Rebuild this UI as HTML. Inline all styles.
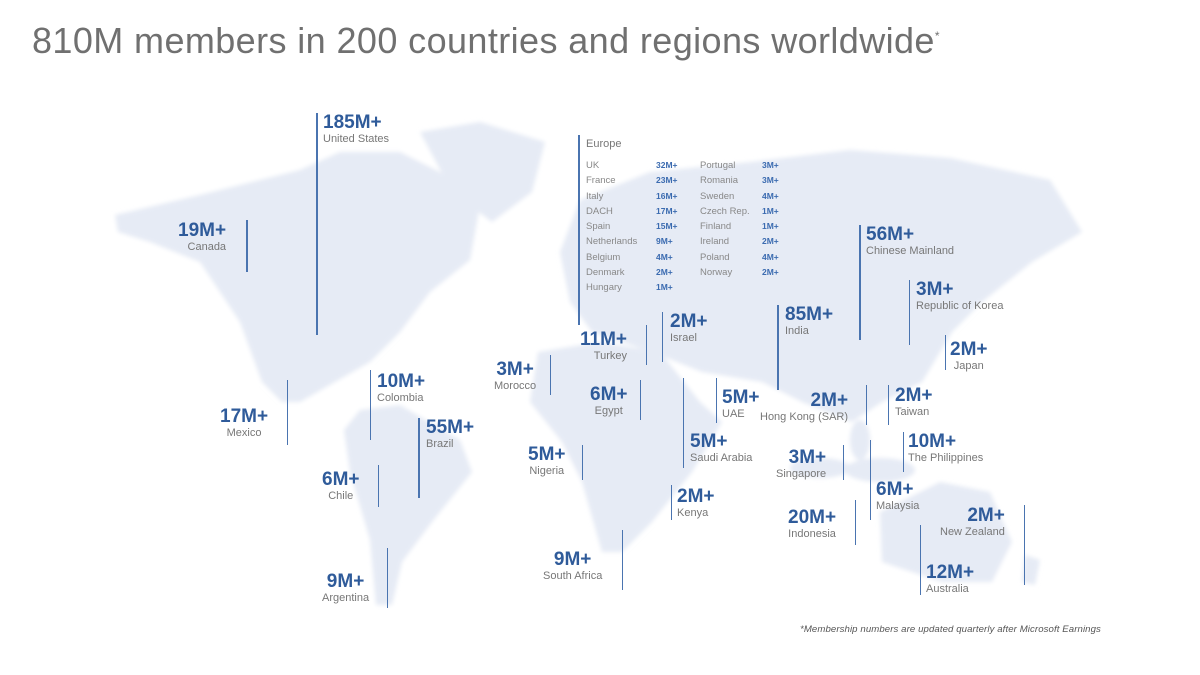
<!DOCTYPE html>
<html><head><meta charset="utf-8"><style>
body{margin:0;width:1200px;height:675px;background:#fff;overflow:hidden;position:relative;font-family:"Liberation Sans",sans-serif}
h1{position:absolute;left:32px;top:20px;margin:0;font-weight:normal;font-size:36px;color:#707070;letter-spacing:0.4px}
h1 sup{font-size:12px}
.l{position:absolute;text-align:center;line-height:1}
.n{font-weight:bold;font-size:19px;color:#2f5b9a;display:block}
.t{font-size:11px;color:#777;display:block;margin-top:2px}
.v{position:absolute;width:2px;background:#4a74b0}
.eu{position:absolute;left:586px;top:158px;font-size:9.5px;color:#888;line-height:15.3px}
.eu b{color:#3b6bb0;font-size:8.5px}
.foot{position:absolute;left:800px;top:624px;font-size:9.6px;font-style:italic;color:#555;letter-spacing:0.1px}
</style></head><body>
<h1>810M members in 200 countries and regions worldwide<sup>*</sup></h1>
<svg width="1200" height="675" style="position:absolute;left:0;top:0">
<defs><filter id="b"><feGaussianBlur stdDeviation="2"/></filter></defs>
<g fill="#e6ebf5" filter="url(#b)">
<polygon points="115,215 200,195 300,170 340,152 400,152 440,172 480,205 470,260 430,292 400,332 370,362 335,382 300,402 282,402 262,382 240,322 200,262 150,242 118,232"/>
<polygon points="420,132 480,122 545,142 532,192 492,222 452,192"/>
<polygon points="360,410 400,405 460,440 472,472 432,522 402,562 392,605 376,605 370,540 350,472 344,430"/>
<polygon points="560,252 580,200 650,172 750,162 850,150 950,158 1050,180 1082,232 1032,262 982,302 952,332 922,382 882,402 852,422 802,402 762,382 702,372 652,352 592,332 570,302"/>
<polygon points="538,352 600,342 660,352 700,402 722,422 692,472 652,522 622,552 602,552 582,482 562,442 530,402"/>
<polygon points="880,512 940,482 990,492 1012,542 992,582 942,582 882,562"/>
<ellipse cx="820" cy="468" rx="30" ry="10"/><ellipse cx="880" cy="470" rx="35" ry="12"/><ellipse cx="860" cy="440" rx="10" ry="20"/>
<polygon points="1025,555 1040,560 1035,585 1022,582"/>
</g></svg>
<div class="v" style="left:316px;top:113px;height:222px"></div>
<div class="l" style="left:323px;top:113px;text-align:left"><span class="n">185M+</span><span class="t">United States</span></div>
<div class="v" style="left:246px;top:220px;height:52px"></div>
<div class="l" style="left:178px;top:221px;text-align:right"><span class="n">19M+</span><span class="t">Canada</span></div>
<div class="v" style="left:578px;top:135px;height:190px"></div>
<div class="l" style="left:586px;top:137px;text-align:left"><span class="t" style="font-size:11px">Europe</span></div>
<div class="eu" style="width:70px">UK<br>France<br>Italy<br>DACH<br>Spain<br>Netherlands<br>Belgium<br>Denmark<br>Hungary</div>
<div class="eu" style="left:656px"><b>32M+<br>23M+<br>16M+<br>17M+<br>15M+<br>9M+<br>4M+<br>2M+<br>1M+</b></div>
<div class="eu" style="left:700px">Portugal<br>Romania<br>Sweden<br>Czech Rep.<br>Finland<br>Ireland<br>Poland<br>Norway</div>
<div class="eu" style="left:762px"><b>3M+<br>3M+<br>4M+<br>1M+<br>1M+<br>2M+<br>4M+<br>2M+</b></div>
<div class="v" style="left:859px;top:225px;height:115px"></div>
<div class="l" style="left:866px;top:225px;text-align:left"><span class="n">56M+</span><span class="t">Chinese Mainland</span></div>
<div class="l" style="left:916px;top:280px;text-align:left"><span class="n">3M+</span><span class="t">Republic of Korea</span></div>
<div class="v" style="left:909px;top:280px;height:65px;width:1px"></div>
<div class="l" style="left:950px;top:340px"><span class="n">2M+</span><span class="t">Japan</span></div>
<div class="v" style="left:945px;top:335px;height:35px;width:1px"></div>
<div class="v" style="left:777px;top:305px;height:85px"></div>
<div class="l" style="left:785px;top:305px;text-align:left"><span class="n">85M+</span><span class="t">India</span></div>
<div class="v" style="left:662px;top:312px;height:50px;width:1px"></div>
<div class="l" style="left:670px;top:312px;text-align:left"><span class="n">2M+</span><span class="t">Israel</span></div>
<div class="v" style="left:646px;top:325px;height:40px;width:1px"></div>
<div class="l" style="left:580px;top:330px;text-align:right"><span class="n">11M+</span><span class="t" style="text-align:right">Turkey</span></div>
<div class="v" style="left:550px;top:355px;height:40px;width:1px"></div>
<div class="l" style="left:494px;top:360px"><span class="n">3M+</span><span class="t">Morocco</span></div>
<div class="v" style="left:640px;top:380px;height:40px;width:1px"></div>
<div class="l" style="left:590px;top:385px"><span class="n">6M+</span><span class="t">Egypt</span></div>
<div class="v" style="left:716px;top:378px;height:45px;width:1px"></div>
<div class="l" style="left:722px;top:388px;text-align:left"><span class="n">5M+</span><span class="t">UAE</span></div>
<div class="l" style="left:760px;top:391px;text-align:right"><span class="n">2M+</span><span class="t">Hong Kong (SAR)</span></div>
<div class="v" style="left:866px;top:385px;height:40px;width:1px"></div>
<div class="v" style="left:888px;top:385px;height:40px;width:1px"></div>
<div class="l" style="left:895px;top:386px;text-align:left"><span class="n">2M+</span><span class="t">Taiwan</span></div>
<div class="v" style="left:683px;top:378px;height:90px;width:1px"></div>
<div class="l" style="left:690px;top:432px;text-align:left"><span class="n">5M+</span><span class="t">Saudi Arabia</span></div>
<div class="v" style="left:903px;top:432px;height:40px;width:1px"></div>
<div class="l" style="left:908px;top:432px;text-align:left"><span class="n">10M+</span><span class="t">The Philippines</span></div>
<div class="v" style="left:582px;top:445px;height:35px;width:1px"></div>
<div class="l" style="left:528px;top:445px"><span class="n">5M+</span><span class="t">Nigeria</span></div>
<div class="l" style="left:776px;top:448px;text-align:right"><span class="n">3M+</span><span class="t">Singapore</span></div>
<div class="v" style="left:843px;top:445px;height:35px;width:1px"></div>
<div class="v" style="left:671px;top:485px;height:35px;width:1px"></div>
<div class="l" style="left:677px;top:487px;text-align:left"><span class="n">2M+</span><span class="t">Kenya</span></div>
<div class="v" style="left:870px;top:440px;height:80px;width:1px"></div>
<div class="l" style="left:876px;top:480px;text-align:left"><span class="n">6M+</span><span class="t">Malaysia</span></div>
<div class="l" style="left:788px;top:508px"><span class="n">20M+</span><span class="t">Indonesia</span></div>
<div class="v" style="left:855px;top:500px;height:45px;width:1px"></div>
<div class="v" style="left:1024px;top:505px;height:80px;width:1px"></div>
<div class="l" style="left:940px;top:506px;text-align:right"><span class="n">2M+</span><span class="t">New Zealand</span></div>
<div class="v" style="left:920px;top:525px;height:70px;width:1px"></div>
<div class="l" style="left:926px;top:563px;text-align:left"><span class="n">12M+</span><span class="t">Australia</span></div>
<div class="v" style="left:622px;top:530px;height:60px;width:1px"></div>
<div class="l" style="left:543px;top:550px"><span class="n">9M+</span><span class="t">South Africa</span></div>
<div class="v" style="left:287px;top:380px;height:65px;width:1px"></div>
<div class="l" style="left:220px;top:407px"><span class="n">17M+</span><span class="t">Mexico</span></div>
<div class="v" style="left:370px;top:370px;height:70px;width:1px"></div>
<div class="l" style="left:377px;top:372px;text-align:left"><span class="n">10M+</span><span class="t">Colombia</span></div>
<div class="v" style="left:418px;top:418px;height:80px"></div>
<div class="l" style="left:426px;top:418px;text-align:left"><span class="n">55M+</span><span class="t">Brazil</span></div>
<div class="v" style="left:378px;top:465px;height:42px;width:1px"></div>
<div class="l" style="left:322px;top:470px"><span class="n">6M+</span><span class="t">Chile</span></div>
<div class="v" style="left:387px;top:548px;height:60px;width:1px"></div>
<div class="l" style="left:322px;top:572px"><span class="n">9M+</span><span class="t">Argentina</span></div>
<div class="foot">*Membership numbers are updated quarterly after Microsoft Earnings</div>
</body></html>
